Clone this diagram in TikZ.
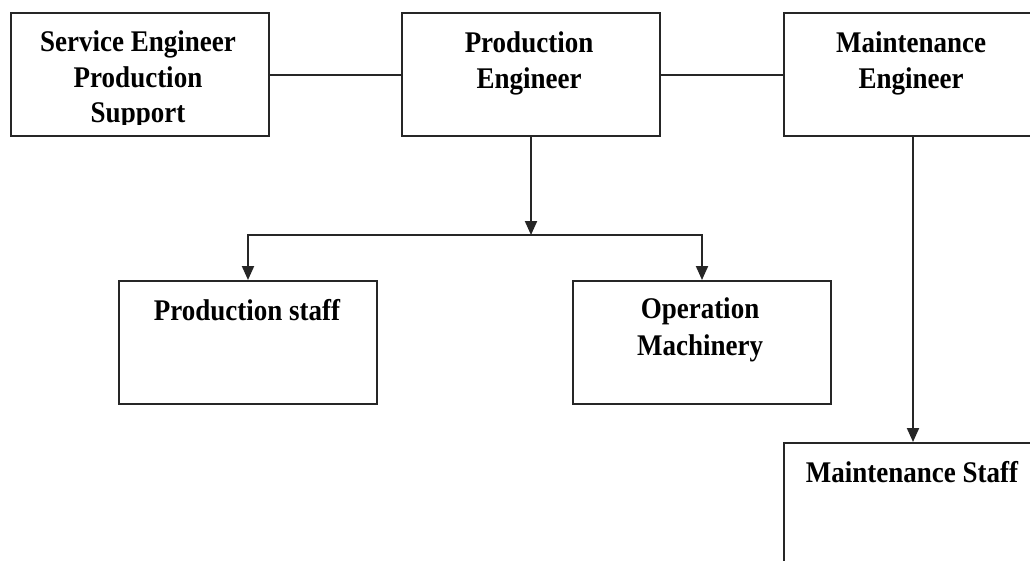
\documentclass[tikz,border=0pt]{standalone}
\usepackage{fontspec}
\setmainfont{Liberation Serif}[FakeStretch=0.9]
\usetikzlibrary{arrows.meta}
\begin{document}
\begin{tikzpicture}[x=1pt,y=-1pt,
  box/.style={draw=black!85,line width=2pt,minimum width=258pt,minimum height=123pt,inner sep=0pt,anchor=north west},
  lbl/.style={font=\fontsize{30}{37}\selectfont\bfseries,anchor=base,inner sep=0pt},
  link/.style={draw=black!85,line width=2pt},
  arr/.style={draw=black!85,line width=2pt,-{Triangle[length=14pt,width=12pt]}}]
\useasboundingbox[fill=white] (0,0) rectangle (1030,560);
\node[box] (b1) at (10,12) {};
\node[box] (b2) at (401,12) {};
\node[box] (b3) at (783,12) {};
\node[box] (b4) at (118,280) {};
\node[box] (b5) at (572,280) {};
\node[box] (b6) at (783,442) {};
% texts
\node[lbl] (t1a) at (138,51) {Service Engineer};
\node[lbl] (t1b) at (138,87) {Production};
\begin{scope}
\clip (10,12) rectangle (268,124);
\node[lbl] (t1c) at (138,122) {Support};
\end{scope}
\node[lbl] (t2a) at (529,52) {Production};
\node[lbl] (t2b) at (529,88) {Engineer};
\node[lbl] (t3a) at (911,52) {Maintenance};
\node[lbl] (t3b) at (911,88) {Engineer};
\node[lbl] (t4) at (247,320) {Production staff};
\node[lbl] (t5a) at (700,318) {Operation};
\node[lbl] (t5b) at (700,355) {Machinery};
\node[lbl] (t6) at (912,482) {Maintenance Staff};
% connectors
\coordinate (j) at ([yshift=-98pt]b2.south);
\draw[link] (b1.east) -- (b2.west);
\draw[link] (b2.east) -- (b3.west);
\draw[arr] (b2.south) -- (j);
\draw[arr] (j) -| (b4.north);
\draw[arr] (j) -| (b5.north);
\draw[arr] (b3.south) -- (b6.north);
\end{tikzpicture}
\end{document}
